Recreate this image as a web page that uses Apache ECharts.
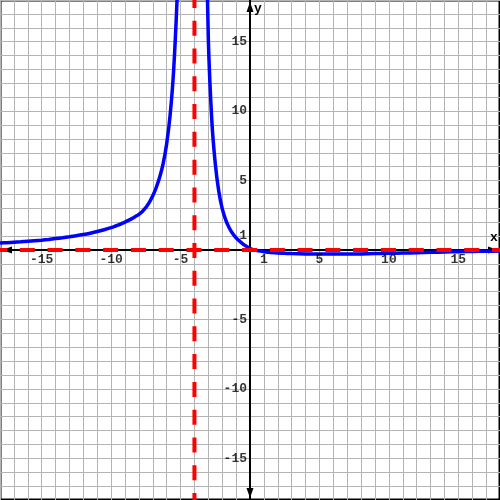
<!DOCTYPE html>
<html><head><meta charset="utf-8">
<script src="https://cdn.jsdelivr.net/npm/echarts@6/dist/echarts.min.js"></script>
<style>html,body{margin:0;padding:0;background:#fff}#c{width:500px;height:500px}</style>
</head><body><div id="c"></div>
<script>
// Blue curve, left of the vertical asymptote
const leftX = [-18, -17.5, -17, -16.5, -16, -15.5, -15, -14.5, -14, -13.5, -13, -12.5, -12, -11.5, -11, -10.5, -10, -9.75, -9.5, -9.25, -9, -8.75, -8.5, -8.25, -8, -7.75, -7.5, -7.25, -7, -6.75, -6.5, -6.25, -6, -5.75, -5.5, -5.25, -5.1];
const leftY = [0.50, 0.53, 0.56, 0.59, 0.63, 0.67, 0.71, 0.76, 0.82, 0.88, 0.95, 1.03, 1.11, 1.21, 1.33, 1.46, 1.61, 1.70, 1.79, 1.90, 2.01, 2.13, 2.26, 2.41, 2.57, 2.78, 3.06, 3.43, 3.90, 4.50, 5.25, 6.24, 7.65, 9.73, 12.9, 18.1, 23];
// Blue curve, right of the vertical asymptote
const rightX = [-3.25, -3, -2.75, -2.5, -2.25, -2, -1.75, -1.5, -1.25, -1, -0.75, -0.5, -0.25, 0, 0.25, 0.5, 0.75, 1, 1.5, 2, 2.5, 3, 4, 5, 6, 7, 8, 9, 10, 11, 12, 13, 14, 15, 16, 17, 18];
const rightY = [28.4, 15.2, 9.34, 6.22, 4.24, 2.98, 2.17, 1.6, 1.18, 0.87, 0.64, 0.43, 0.26, 0.1, 0.03, -0.03, -0.08, -0.12, -0.18, -0.22, -0.24, -0.26, -0.28, -0.29, -0.29, -0.29, -0.28, -0.26, -0.24, -0.22, -0.2, -0.17, -0.14, -0.12, -0.1, -0.09, -0.08];
// Asymptotes
const asymptoteX = -4;
const asymptoteY = 0;
// Axes
const axisMin = -18;
const axisMax = 18;
const xTickLabels = [-15, -10, -5, 1, 5, 10, 15];
const yTickLabels = [-15, -10, -5, 1, 5, 10, 15];

const FONT = '"Liberation Mono", "Courier New", monospace';
const zip = (xs, ys) => xs.map((x, i) => [x, ys[i]]);
const chart = echarts.init(document.getElementById('c'), null, { renderer: 'canvas' });

const axisCommon = {
  type: 'value', min: axisMin, max: axisMax, interval: 1,
  axisLine: { show: true, onZero: true, lineStyle: { color: '#000', width: 2 },
    symbol: ['triangle', 'triangle'], symbolSize: [7, 10], symbolOffset: [7, -7] },
  axisTick: { show: false },
  axisLabel: { show: false },
  splitLine: { show: true, lineStyle: { color: '#b4b4b4', width: 1 } },
};
const labelText = { color: '#000', fontFamily: FONT, fontWeight: 'bold', fontSize: 13 };

chart.setOption({
  animation: false,
  backgroundColor: '#fff',
  grid: { left: 0, right: 0, top: 0, bottom: 0, containLabel: false, outerBoundsMode: 'none',
    show: true, borderColor: '#000', borderWidth: 3 },
  xAxis: Object.assign({}, axisCommon),
  yAxis: Object.assign({}, axisCommon),
  graphic: [
    { type: 'text', x: 494, y: 238, z: 10, style: { text: 'x', font: 'bold 13px ' + FONT, fill: '#000', align: 'center', verticalAlign: 'middle' } },
    { type: 'text', x: 258, y: 9, z: 10, style: { text: 'y', font: 'bold 13px ' + FONT, fill: '#000', align: 'center', verticalAlign: 'middle' } }
  ],
  series: [
    { type: 'line', data: zip(leftX, leftY), smooth: 0.3, symbol: 'none', clip: true, z: 3,
      lineStyle: { color: '#0000ff', width: 3.5 } },
    { type: 'line', data: zip(rightX, rightY), smooth: 0.3, symbol: 'none', clip: true, z: 3,
      lineStyle: { color: '#0000ff', width: 3.5 } },
    { type: 'line', data: [[axisMin, asymptoteY], [axisMax, asymptoteY]], symbol: 'none', z: 5,
      lineStyle: { color: '#ff0000', width: 4, type: [15, 12.78], dashOffset: 8 } },
    { type: 'line', data: [[asymptoteX, axisMin], [asymptoteX, axisMax]], symbol: 'none', z: 5,
      lineStyle: { color: '#ff0000', width: 4, type: [15, 12.78], dashOffset: 8 } },
    { type: 'scatter', silent: true, z: 6, symbolSize: 0, data: xTickLabels.map(v => [v, 0]),
      label: Object.assign({ show: true, position: 'bottom', distance: 3, formatter: p => String(p.value[0]) }, labelText) },
    { type: 'scatter', silent: true, z: 6, symbolSize: 0, data: yTickLabels.map(v => [0, v]),
      label: Object.assign({ show: true, position: 'left', distance: 3, formatter: p => String(p.value[1]) }, labelText) }
  ]
});
</script></body></html>
